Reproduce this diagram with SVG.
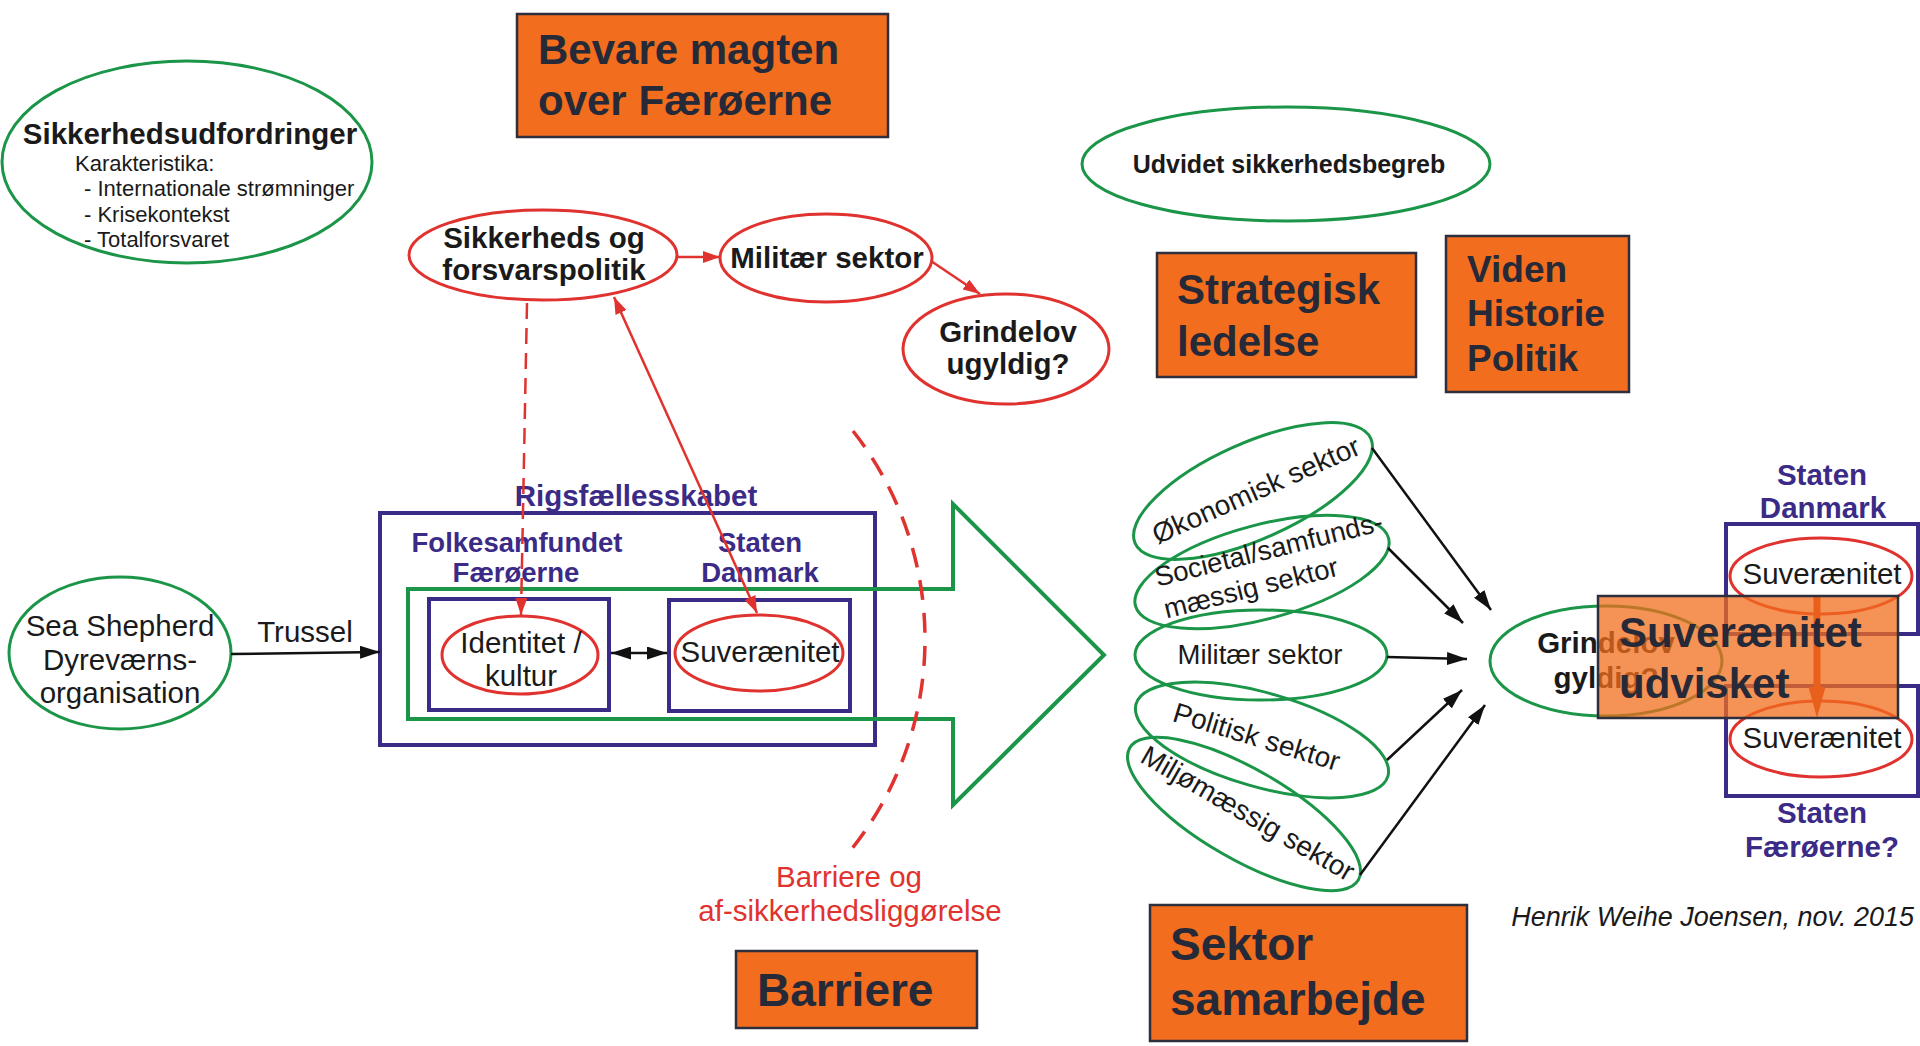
<svg xmlns="http://www.w3.org/2000/svg" width="1920" height="1046" viewBox="0 0 1920 1046">
<defs>
<style>
text{font-family:"Liberation Sans",Arial,sans-serif}
.b{font-weight:bold}
.blk{fill:#1a1a1a}
.pur{fill:#3b2a86}
.red{fill:#e0322e}
.box{fill:#f26d1e;stroke:#2e2f3d;stroke-width:2.5}
.bt{fill:#262a38;font-weight:bold}
.ge{fill:none;stroke:#1b9548;stroke-width:3}
.re{fill:none;stroke:#e0322e;stroke-width:3}
.pr{fill:none;stroke:#3b2a86;stroke-width:4}
.bl{stroke:#111;stroke-width:2.5;fill:none}
.rl{stroke:#e0322e;stroke-width:2.5;fill:none}
</style>
<marker id="ab" viewBox="0 0 20 13" refX="20" refY="6.5" markerWidth="20" markerHeight="13" markerUnits="userSpaceOnUse" orient="auto-start-reverse"><path d="M0,0 L20,6.5 L0,13 z" fill="#111"/></marker>
<marker id="ar" viewBox="0 0 17 12" refX="17" refY="6" markerWidth="17" markerHeight="12" markerUnits="userSpaceOnUse" orient="auto-start-reverse"><path d="M0,0 L17,6 L0,12 z" fill="#e0322e"/></marker>
</defs>
<rect width="1920" height="1046" fill="#ffffff"/>

<g id="sikkerhedsudfordringer">
<ellipse class="ge" cx="187" cy="162" rx="185" ry="101"/>
<text class="b blk" x="190" y="144" font-size="29.5" text-anchor="middle">Sikkerhedsudfordringer</text>
<text class="blk" x="75" y="171" font-size="22">Karakteristika:</text>
<text class="blk" x="84" y="196" font-size="22">- Internationale strømninger</text>
<text class="blk" x="84" y="222" font-size="22">- Krisekontekst</text>
<text class="blk" x="84" y="247" font-size="22">- Totalforsvaret</text>
</g>

<g id="bevare">
<rect class="box" x="517" y="14" width="371" height="123"/>
<text class="bt" x="538" y="64" font-size="42">Bevare magten</text>
<text class="bt" x="538" y="115" font-size="42">over Færøerne</text>
</g>

<g id="sikkerhedspolitik">
<ellipse class="re" cx="543" cy="255" rx="134" ry="45"/>
<text class="b blk" x="544" y="248" font-size="29.5" text-anchor="middle">Sikkerheds og</text>
<text class="b blk" x="544" y="280" font-size="29.5" text-anchor="middle">forsvarspolitik</text>
</g>

<g id="militaer-top">
<ellipse class="re" cx="826" cy="258" rx="106" ry="44"/>
<text class="b blk" x="827" y="268" font-size="29.5" text-anchor="middle">Militær sektor</text>
</g>

<g id="grindelov-ugyldig">
<ellipse class="re" cx="1006" cy="349" rx="103" ry="55"/>
<text class="b blk" x="1008" y="342" font-size="29.5" text-anchor="middle">Grindelov</text>
<text class="b blk" x="1008" y="374" font-size="29.5" text-anchor="middle">ugyldig?</text>
</g>

<g id="udvidet">
<ellipse class="ge" cx="1286" cy="164" rx="204" ry="57"/>
<text class="b blk" x="1289" y="173" font-size="25" text-anchor="middle">Udvidet sikkerhedsbegreb</text>
</g>

<g id="strategisk">
<rect class="box" x="1157" y="253" width="259" height="124"/>
<text class="bt" x="1177" y="304" font-size="42">Strategisk</text>
<text class="bt" x="1177" y="356" font-size="42">ledelse</text>
</g>

<g id="viden">
<rect class="box" x="1446" y="236" width="183" height="156"/>
<text class="bt" x="1467" y="282" font-size="37">Viden</text>
<text class="bt" x="1467" y="326" font-size="37">Historie</text>
<text class="bt" x="1467" y="371" font-size="37">Politik</text>
</g>

<g id="sea-shepherd">
<ellipse class="ge" cx="120" cy="653" rx="111" ry="76"/>
<text class="blk" x="120" y="636" font-size="29.5" text-anchor="middle">Sea Shepherd</text>
<text class="blk" x="120" y="670" font-size="29.5" text-anchor="middle">Dyreværns-</text>
<text class="blk" x="120" y="703" font-size="29.5" text-anchor="middle">organisation</text>
</g>

<g id="rigsfaellesskabet">
<rect class="pr" x="380" y="513" width="495" height="232"/>
<text class="b pur" x="636" y="506" font-size="29.5" text-anchor="middle">Rigsfællesskabet</text>
<text class="b pur" x="517" y="552" font-size="27.5" text-anchor="middle">Folkesamfundet</text>
<text class="b pur" x="516" y="582" font-size="27.5" text-anchor="middle">Færøerne</text>
<text class="b pur" x="760" y="552" font-size="27.5" text-anchor="middle">Staten</text>
<text class="b pur" x="760" y="582" font-size="27.5" text-anchor="middle">Danmark</text>
</g>

<g id="green-arrow">
<polygon points="408,589 953,589 953,504 1104,655 953,805 953,719 408,719" fill="none" stroke="#1b9548" stroke-width="4"/>
</g>

<g id="identitet">
<rect class="pr" x="429" y="599" width="180" height="111"/>
<ellipse class="re" cx="520" cy="655" rx="78" ry="39"/>
<text class="blk" x="521" y="653" font-size="29.5" text-anchor="middle">Identitet /</text>
<text class="blk" x="521" y="686" font-size="29.5" text-anchor="middle">kultur</text>
</g>

<g id="suveraenitet-dk">
<rect class="pr" x="669" y="600" width="181" height="111"/>
<ellipse class="re" cx="759" cy="653" rx="84" ry="38"/>
<text class="blk" x="760" y="662" font-size="29.5" text-anchor="middle">Suverænitet</text>
</g>

<g id="barriere-arc">
<path d="M853,431 A337,337 0 0 1 846,856" fill="none" stroke="#e0322e" stroke-width="3.5" stroke-dasharray="20 13"/>
<text class="red" x="849" y="887" font-size="29.5" text-anchor="middle">Barriere og</text>
<text class="red" x="850" y="921" font-size="29.5" text-anchor="middle">af-sikkerhedsliggørelse</text>
</g>

<g id="barriere">
<rect class="box" x="736" y="951" width="241" height="77"/>
<text class="bt" x="757" y="1006" font-size="46">Barriere</text>
</g>

<g id="oekonomisk">
<ellipse class="ge" cx="1253" cy="491" rx="129" ry="48" transform="rotate(-24 1253 491)"/>
<text class="blk" font-size="28" text-anchor="middle" transform="translate(1253 491) rotate(-24)" x="3" y="10">Økonomisk sektor</text>
</g>
<g id="societal">
<ellipse class="ge" cx="1262" cy="572" rx="131" ry="47" transform="rotate(-15 1262 572)"/>
<text class="blk" font-size="27.5" transform="translate(1262 572) rotate(-14)"><tspan x="-105" y="-11">Societal/samfunds-</tspan><tspan x="-104" y="22">mæssig sektor</tspan></text>
</g>
<g id="militaer">
<ellipse class="ge" cx="1261" cy="655" rx="126" ry="45"/>
<text class="blk" x="1260" y="664" font-size="27.5" text-anchor="middle">Militær sektor</text>
</g>
<g id="politisk">
<ellipse class="ge" cx="1262" cy="740" rx="131" ry="47" transform="rotate(16 1262 740)"/>
<text class="blk" font-size="28" text-anchor="middle" transform="translate(1262 740) rotate(17)" x="-6" y="8">Politisk sektor</text>
</g>
<g id="miljo">
<ellipse class="ge" cx="1244" cy="814" rx="132" ry="45" transform="rotate(30 1244 814)"/>
<text class="blk" font-size="28" text-anchor="middle" transform="translate(1244 814) rotate(30)" x="3" y="7">Miljømæssig sektor</text>
</g>

<g id="sektor-samarbejde">
<rect class="box" x="1150" y="905" width="317" height="136"/>
<text class="bt" x="1170" y="960" font-size="46">Sektor</text>
<text class="bt" x="1170" y="1015" font-size="46">samarbejde</text>
</g>

<g id="grindelov-gyldig">
<ellipse class="ge" cx="1606" cy="661" rx="116" ry="55"/>
<text class="b blk" x="1606" y="653" font-size="29.5" text-anchor="middle">Grindelov</text>
<text class="b blk" x="1606" y="688" font-size="29.5" text-anchor="middle">gyldig?</text>
</g>

<g id="staten-danmark-right">
<rect class="pr" x="1726" y="524" width="192" height="110"/>
<ellipse class="re" cx="1821" cy="576" rx="91" ry="38"/>
<text class="blk" x="1822" y="584" font-size="29.5" text-anchor="middle">Suverænitet</text>
<text class="b pur" x="1822" y="485" font-size="29.5" text-anchor="middle">Staten</text>
<text class="b pur" x="1823" y="518" font-size="29.5" text-anchor="middle">Danmark</text>
</g>

<g id="staten-faeroerne">
<rect class="pr" x="1726" y="686" width="192" height="110"/>
<ellipse class="re" cx="1821" cy="739" rx="91" ry="38"/>
<text class="blk" x="1822" y="748" font-size="29.5" text-anchor="middle">Suverænitet</text>
<text class="b pur" x="1822" y="823" font-size="29.5" text-anchor="middle">Staten</text>
<text class="b pur" x="1822" y="857" font-size="29.5" text-anchor="middle">Færøerne?</text>
</g>

<g id="connectors">
<line class="rl" x1="677" y1="257" x2="720" y2="257" marker-end="url(#ar)"/>
<line class="rl" x1="931" y1="261" x2="980" y2="294" marker-end="url(#ar)"/>
<line class="rl" x1="527" y1="303" x2="521" y2="615" stroke-dasharray="16 9" marker-end="url(#ar)"/>
<line class="rl" x1="614" y1="297" x2="757" y2="613" marker-start="url(#ar)" marker-end="url(#ar)"/>
<line class="bl" x1="611" y1="653" x2="667" y2="653" marker-start="url(#ab)" marker-end="url(#ab)"/>
<line class="bl" x1="231" y1="654" x2="380" y2="652" marker-end="url(#ab)"/>
<text class="blk" x="305" y="642" font-size="29.5" text-anchor="middle">Trussel</text>
<line class="bl" x1="1372" y1="448" x2="1491" y2="610" marker-end="url(#ab)"/>
<line class="bl" x1="1388" y1="548" x2="1463" y2="623" marker-end="url(#ab)"/>
<line class="bl" x1="1387" y1="657" x2="1467" y2="659" marker-end="url(#ab)"/>
<line class="bl" x1="1387" y1="760" x2="1462" y2="690" marker-end="url(#ab)"/>
<line class="bl" x1="1360" y1="875" x2="1485" y2="705" marker-end="url(#ab)"/>
<line x1="1817" y1="597" x2="1817" y2="690" stroke="#ca3916" stroke-width="7"/>
<polygon points="1808.5,687 1825.5,687 1817,718" fill="#ca3916"/>
</g>

<g id="suveraenitet-udvisket">
<rect x="1598" y="596" width="300" height="122" fill="#f26d1e" fill-opacity="0.75" stroke="#2e2f3d" stroke-width="2.5"/>
<text class="bt" x="1619" y="647" font-size="42">Suverænitet</text>
<text class="bt" x="1619" y="698" font-size="42">udvisket</text>
</g>

<text x="1914" y="926" font-size="27" font-style="italic" text-anchor="end" class="blk">Henrik Weihe Joensen, nov. 2015</text>
</svg>
